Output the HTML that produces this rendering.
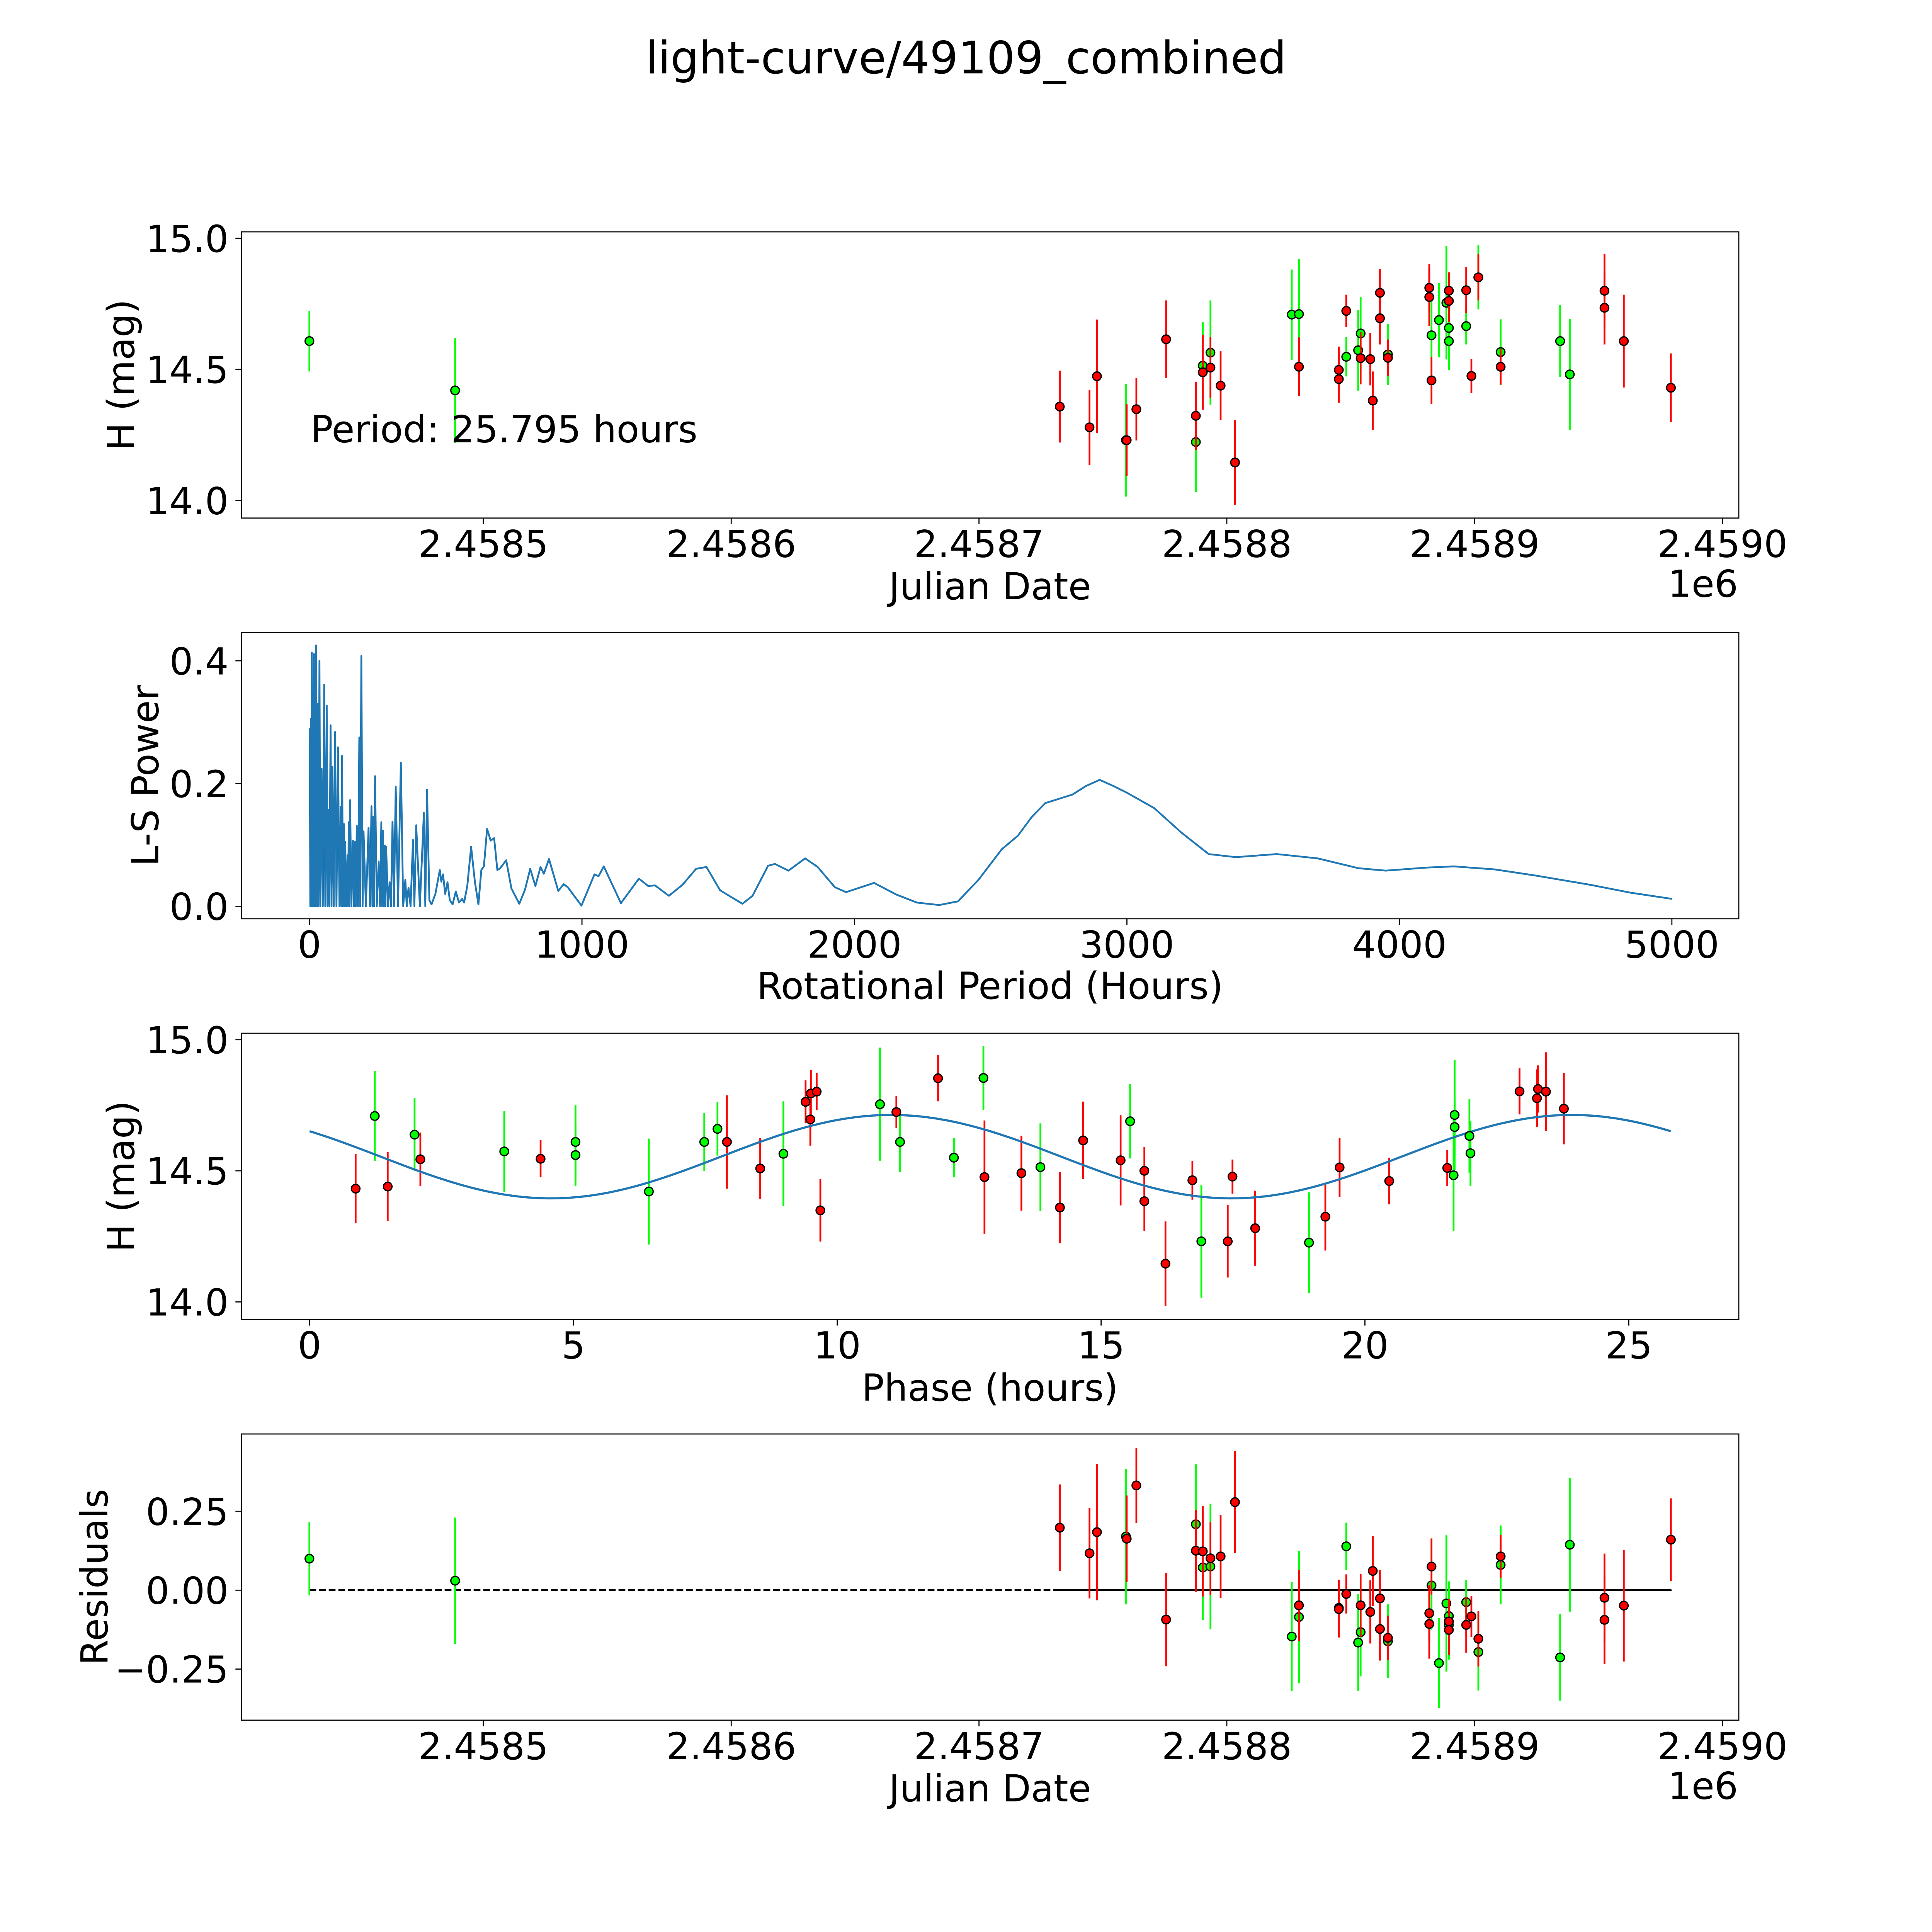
<!DOCTYPE html>
<html><head><meta charset="utf-8">
<style>
html,body{margin:0;padding:0;background:#fff;overflow:hidden;width:100vw;height:100vh;}
svg{display:block;width:100vw;height:100vh;}
text{font-family:"DejaVu Sans","Liberation Sans",sans-serif;fill:#000;}
</style></head>
<body>
<svg id="fig" xmlns="http://www.w3.org/2000/svg" viewBox="0 0 5400 5400" preserveAspectRatio="none">
<rect x="0" y="0" width="5400" height="5400" fill="#fff"/>
<text x="2700" y="205" font-size="125" text-anchor="middle">light-curve/49109_combined</text>
</svg>
<script>
// ---------- Panel 1: light curve (Julian Date) ----------
const gDate = [2458429.8,2458488.6,2458759.3,2458787.5,2458790.3,2458793.4,2458826.2,2458829.1,2458848.2,2458853.0,2458854.0,2458865.0,2458882.6,2458885.6,2458888.6,2458889.6,2458889.6,2458896.6,2458901.5,2458910.5,2458934.5,2458938.4];
const gMag = [14.608,14.42,14.23,14.223,14.514,14.564,14.709,14.711,14.548,14.573,14.637,14.557,14.63,14.688,14.754,14.658,14.608,14.665,14.851,14.566,14.608,14.481];
const gErr = [0.116,0.2,0.215,0.19,0.167,0.199,0.172,0.21,0.075,0.154,0.14,0.117,0.14,0.142,0.216,0.11,0.11,0.07,0.122,0.125,0.137,0.212];
const rDate = [2458732.6,2458744.6,2458747.6,2458759.6,2458763.5,2458775.5,2458787.5,2458790.3,2458793.4,2458797.5,2458803.3,2458829.1,2458845.2,2458845.2,2458848.2,2458854.0,2458857.9,2458858.9,2458861.8,2458861.8,2458865.0,2458881.7,2458881.7,2458882.6,2458889.6,2458889.6,2458896.6,2458898.7,2458901.5,2458910.5,2458952.4,2458952.4,2458960.2,2458979.2];
const rMag = [14.358,14.279,14.474,14.23,14.348,14.615,14.323,14.489,14.507,14.438,14.145,14.51,14.498,14.463,14.723,14.543,14.539,14.381,14.792,14.695,14.544,14.811,14.776,14.458,14.80,14.761,14.802,14.475,14.851,14.51,14.80,14.735,14.608,14.43];
const rErr = [0.137,0.143,0.216,0.137,0.119,0.148,0.13,0.143,0.116,0.131,0.161,0.112,0.089,0.09,0.062,0.1,0.1,0.111,0.09,0.1,0.07,0.09,0.11,0.089,0.07,0.08,0.088,0.065,0.088,0.068,0.14,0.14,0.177,0.131];
const jdTicks = [2458500,2458600,2458700,2458800,2458900,2459000];
const jdTickLabels = ["2.4585","2.4586","2.4587","2.4588","2.4589","2.4590"];
const magTicks = [14.0,14.5,15.0];
const magTickLabels = ["14.0","14.5","15.0"];
const periodText = "Period: 25.795 hours";

// ---------- Panel 2: periodogram ----------
const lsHours = [1,3,4.7,6.5,8.5,12,16.4,17.5,18.8,21,24.4,27,30.5,33,36.6,40,44.6,49,54,58,63.3,66,69.4,73,77.4,81,84.4,89,93.8,99,104.6,110,114.9,117,119.6,123,126.6,129,131.3,135,139.8,142,144,146,149.1,154,159.5,163,166.5,170,173.5,178,182.9,186,190.4,195,198.4,207,216.7,222,227.5,231,234.5,237,240.6,247,254.2,259,263.6,266,269.7,273,276.7,279,281.4,288,294,299,304.8,310,316.6,325,335.3,344,351.7,357,363.4,371,379.9,385,391.6,405,419.7,425,431.4,440,447.9,462,478.3,484,490.1,498,506.5,515,525.2,537,548.7,560.4,567.4,579.2,593.2,607.3,620,630.7,640.1,651.8,665,677.6,689.4,700,722,741,770,791,810,829,848,860,879,913,933,948,998,1046,1061,1080,1143,1209,1243,1268,1319,1369,1419,1457,1507,1589,1626,1683,1708,1758,1819,1865,1928,1969,2072,2154,2229,2311,2380,2455,2541,2600,2650,2700,2750,2800,2850,2900,2950,3000,3100,3200,3300,3400,3550,3700,3850,3950,4100,4200,4350,4500,4700,4850,5000];
const lsPower = [0.29,0,0.305,0,0.413,0,0.411,0,0.384,0,0.425,0,0.33,0,0.40,0,0.224,0,0.361,0,0.327,0,0.157,0,0.295,0,0.227,0,0.284,0,0.259,0,0.162,0,0.245,0,0.134,0,0.105,0,0.083,0,0.137,0,0.173,0,0.107,0,0.105,0,0.131,0,0.275,0,0.408,0,0.122,0,0.128,0,0.163,0,0.146,0,0.212,0,0.073,0,0.137,0,0.123,0,0.099,0,0.097,0,0.039,0,0.138,0,0.195,0,0.234,0,0.043,0,0.030,0,0.108,0,0.132,0,0.152,0,0.19,0.01,0.003,0.02,0.059,0.04,0.052,0.02,0.039,0.01,0.003,0.024,0.006,0.012,0.006,0.033,0.097,0.039,0.003,0.059,0.065,0.126,0.107,0.111,0.059,0.062,0.075,0.029,0.004,0.027,0.061,0.033,0.064,0.053,0.077,0.025,0.036,0.031,0.001,0.052,0.049,0.065,0.005,0.045,0.033,0.034,0.017,0.035,0.061,0.064,0.026,0.004,0.017,0.066,0.069,0.058,0.078,0.064,0.031,0.023,0.038,0.019,0.006,0.002,0.008,0.043,0.093,0.115,0.145,0.168,0.175,0.182,0.196,0.206,0.196,0.185,0.16,0.12,0.085,0.08,0.085,0.078,0.062,0.058,0.063,0.065,0.06,0.05,0.035,0.022,0.012];
const lsXTicks = [0,1000,2000,3000,4000,5000];
const lsXTickLabels = ["0","1000","2000","3000","4000","5000"];
const lsYTicks = [0,0.2,0.4];
const lsYTickLabels = ["0.0","0.2","0.4"];

// ---------- Panel 3: phase-folded ----------
const gPhase = [1.236,1.99,3.69,5.04,5.04,6.43,7.48,7.73,8.98,10.81,11.19,12.21,12.77,13.85,15.55,16.90,18.94,21.70,21.70,21.68,21.98,22.0];
const gPhMag = [14.709,14.638,14.574,14.61,14.56,14.421,14.61,14.66,14.565,14.754,14.61,14.55,14.854,14.514,14.689,14.231,14.226,14.713,14.667,14.483,14.633,14.567];
const gPhErr = [0.172,0.139,0.154,0.14,0.117,0.202,0.11,0.102,0.2,0.216,0.115,0.075,0.122,0.167,0.142,0.215,0.192,0.21,0.11,0.212,0.14,0.124];
const rPhase = [0.873,1.481,2.10,4.378,7.91,8.54,9.40,9.50,9.61,9.49,9.68,11.12,11.91,12.79,13.49,14.22,14.66,15.37,15.82,15.82,16.22,16.73,17.49,17.40,17.92,19.25,19.52,20.46,21.56,22.93,23.28,23.26,23.43,23.77];
const rPhMag = [14.432,14.44,14.544,14.546,14.61,14.509,14.763,14.795,14.802,14.696,14.349,14.724,14.853,14.476,14.491,14.36,14.616,14.54,14.50,14.384,14.146,14.464,14.478,14.231,14.281,14.325,14.513,14.461,14.511,14.803,14.812,14.777,14.802,14.737];
const rPhErr = [0.132,0.131,0.102,0.071,0.178,0.116,0.082,0.09,0.071,0.1,0.119,0.062,0.088,0.216,0.143,0.136,0.148,0.172,0.09,0.113,0.161,0.074,0.065,0.138,0.143,0.129,0.112,0.089,0.069,0.088,0.09,0.11,0.15,0.136];
const modelPeriod = [25.795];
const modelParams = [14.554, 0.159, 11.02]; // mean, amplitude, peak phase
const phTicks = [0,5,10,15,20,25];
const phTickLabels = ["0","5","10","15","20","25"];

// ---------- Panel 4: residuals ----------
const gRes = [0.10,0.03,0.170,0.209,0.072,0.075,-0.147,-0.085,0.139,-0.166,-0.133,-0.162,0.015,-0.231,-0.042,-0.082,-0.11,-0.038,-0.196,0.080,-0.213,0.144];
const rRes = [0.198,0.117,0.184,0.163,0.332,-0.093,0.125,0.123,0.101,0.107,0.279,-0.048,-0.056,-0.06,-0.012,-0.048,-0.069,0.061,-0.026,-0.123,-0.151,-0.073,-0.107,0.075,-0.099,-0.126,-0.110,-0.083,-0.154,0.107,-0.024,-0.094,-0.049,0.160];
const resTicks = [-0.25,0,0.25];
const resTickLabels = ["\u22120.25","0.00","0.25"];

const NS = "http://www.w3.org/2000/svg";
const svg = document.getElementById('fig');
function mk(tag, attrs, parent){
  const e = document.createElementNS(NS, tag);
  for (const k in attrs) e.setAttribute(k, attrs[k]);
  (parent||svg).appendChild(e);
  return e;
}
function lin(d0,d1,r0,r1){ return v => r0 + (v-d0)*(r1-r0)/(d1-d0); }

const L = 675, R = 4860;
const panels = [[648,1448],[1768,2568],[2888,3688],[4008,4808]];

function frame(top,bottom,name){
  const r = mk('rect',{x:L,y:top,width:R-L,height:bottom-top,fill:'none',stroke:'#000','stroke-width':3});
  
  
}
function xTicks(vals,labels,sx,bottom,name){
  const g = mk('g',{});
  
  
  vals.forEach((v,i)=>{
    const x = sx(v);
    mk('line',{x1:x,x2:x,y1:bottom,y2:bottom+17,stroke:'#000','stroke-width':3},g);
    const t = mk('text',{x:x,y:bottom+109,'font-size':104,'text-anchor':'middle'},g);
    
    
    t.textContent = labels[i];
  });
}
function yTicks(vals,labels,sy,name){
  const g = mk('g',{});
  
  
  vals.forEach((v,i)=>{
    const y = sy(v);
    mk('line',{x1:L-17,x2:L,y1:y,y2:y,stroke:'#000','stroke-width':3},g);
    const t = mk('text',{x:L-36,y:y+38,'font-size':104,'text-anchor':'end'},g);
    
    
    t.textContent = labels[i];
  });
}
function label(txt,x,y,rot,name){
  const t = mk('text',{x:x,y:y,'font-size':104,'text-anchor':'middle'});
  if (rot) t.setAttribute('transform','rotate(-90 '+x+' '+y+')');
  
  
  t.textContent = txt;
}
function errSeries(xs,ys,es,sx,sy,color,name){
  const g = mk('g',{});
  
  
  xs.forEach((v,i)=>{
    const x = sx(v);
    const b = mk('line',{x1:x,x2:x,y1:sy(ys[i]-es[i]),y2:sy(ys[i]+es[i]),stroke:color,'stroke-width':5},g);
    
    
  });
  return g;
}
function markers(xs,ys,sx,sy,color,name){
  const g = mk('g',{});
  
  
  xs.forEach((v,i)=>{
    const c = mk('circle',{cx:sx(v),cy:sy(ys[i]),r:12,fill:color,stroke:'#000','stroke-width':3.5},g);
    
    
  });
}
const GREEN = '#00ff00', RED = '#ff0000', BLUE = '#1f77b4';

// Panel 1
{
  const [T,B] = panels[0];
  const sx = lin(2458402.4,2459006.6,L,R);
  const sy = lin(13.933,15.0246,B,T);
  errSeries(gDate,gMag,gErr,sx,sy,GREEN,'lc-green-errorbars');
  markers(gDate,gMag,sx,sy,GREEN,'lc-green-points');
  errSeries(rDate,rMag,rErr,sx,sy,RED,'lc-red-errorbars');
  markers(rDate,rMag,sx,sy,RED,'lc-red-points');
  frame(T,B,'lightcurve');
  xTicks(jdTicks,jdTickLabels,sx,B,'lightcurve');
  yTicks(magTicks,magTickLabels,sy,'lightcurve');
  const pt = mk('text',{x:868,y:1236,'font-size':104});
  
  
  pt.textContent = periodText;
  label('Julian Date',2767,1675,false,'lightcurve-x-axis-title');
  const o = mk('text',{x:4858,y:1668,'font-size':104,'text-anchor':'end'});
  
  
  o.textContent = '1e6';
  label('H (mag)',375,1048,true,'lightcurve-y-axis-title');
}
// Panel 2
{
  const [T,B] = panels[1];
  const sx = lin(-249.5,5245.6,L,R);
  const sy = lin(-0.0204,0.446,B,T);
  let d = '';
  lsHours.forEach((h,i)=>{ d += (i?'L':'M') + sx(h).toFixed(1) + ' ' + sy(lsPower[i]).toFixed(1); });
  const p = mk('path',{d:d,fill:'none',stroke:BLUE,'stroke-width':5,'stroke-linejoin':'round'});
  
  
  frame(T,B,'periodogram');
  xTicks(lsXTicks,lsXTickLabels,sx,B,'periodogram');
  yTicks(lsYTicks,lsYTickLabels,sy,'periodogram');
  label('Rotational Period (Hours)',2767,2792,false,'periodogram-x-axis-title');
  label('L-S Power',442,2168,true,'periodogram-y-axis-title');
}
// Panel 3
{
  const [T,B] = panels[2];
  const sx = lin(-1.2898,27.085,L,R);
  const sy = lin(13.933,15.0246,B,T);
  errSeries(gPhase,gPhMag,gPhErr,sx,sy,GREEN,'phase-green-errorbars');
  errSeries(rPhase,rPhMag,rPhErr,sx,sy,RED,'phase-red-errorbars');
  const P = modelPeriod[0];
  let d = '';
  for (let i=0;i<=300;i++){
    const ph = P*i/300;
    const m = modelParams[0] + modelParams[1]*Math.cos(4*Math.PI*(ph-modelParams[2])/P);
    d += (i?'L':'M') + sx(ph).toFixed(1) + ' ' + sy(m).toFixed(1);
  }
  const c = mk('path',{d:d,fill:'none',stroke:BLUE,'stroke-width':6});
  
  
  markers(gPhase,gPhMag,sx,sy,GREEN,'phase-green-points');
  markers(rPhase,rPhMag,sx,sy,RED,'phase-red-points');
  frame(T,B,'phase');
  xTicks(phTicks,phTickLabels,sx,B,'phase');
  yTicks(magTicks,magTickLabels,sy,'phase');
  label('Phase (hours)',2767,3915,false,'phase-x-axis-title');
  label('H (mag)',375,3288,true,'phase-y-axis-title');
}
// Panel 4
{
  const [T,B] = panels[3];
  const sx = lin(2458402.4,2459006.6,L,R);
  const sy = lin(-0.412,0.495,B,T);
  const gx0 = Math.min(...gDate), gx1 = Math.max(...gDate);
  const rx0 = Math.min(...rDate), rx1 = Math.max(...rDate);
  const dl = mk('line',{x1:sx(gx0),x2:sx(gx1),y1:sy(0),y2:sy(0),stroke:'#000','stroke-width':5,'stroke-dasharray':'19 8'});
  
  
  const sl = mk('line',{x1:sx(rx0),x2:sx(rx1),y1:sy(0),y2:sy(0),stroke:'#000','stroke-width':5,'stroke-linecap':'round'});
  
  
  errSeries(gDate,gRes,gErr,sx,sy,GREEN,'res-green-errorbars');
  markers(gDate,gRes,sx,sy,GREEN,'res-green-points');
  errSeries(rDate,rRes,rErr,sx,sy,RED,'res-red-errorbars');
  markers(rDate,rRes,sx,sy,RED,'res-red-points');
  frame(T,B,'residuals');
  xTicks(jdTicks,jdTickLabels,sx,B,'residuals');
  yTicks(resTicks,resTickLabels,sy,'residuals');
  label('Julian Date',2767,5035,false,'residuals-x-axis-title');
  const o = mk('text',{x:4858,y:5028,'font-size':104,'text-anchor':'end'});
  
  
  o.textContent = '1e6';
  label('Residuals',300,4408,true,'residuals-y-axis-title');
}
</script>
</body></html>
